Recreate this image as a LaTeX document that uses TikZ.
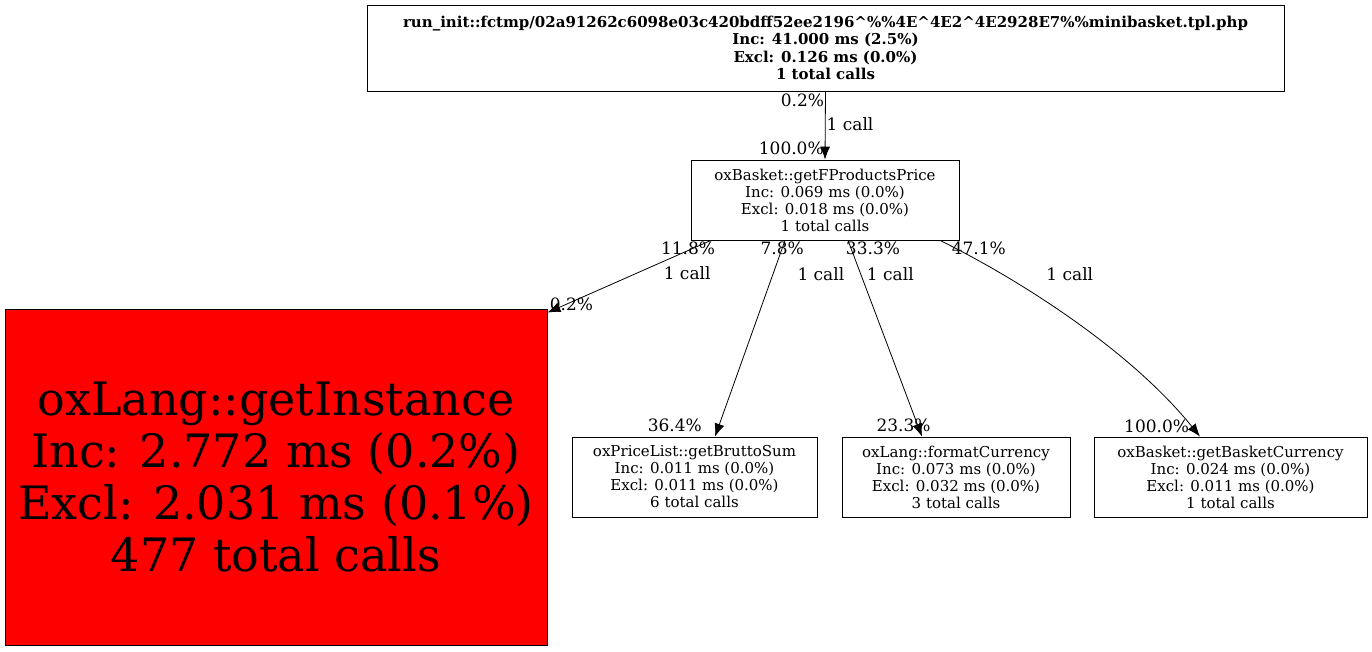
\documentclass[tikz,border=0pt]{standalone}
\usepackage{fontspec}
\setmainfont{DejaVu Serif}
\usepackage{tikz}
\usetikzlibrary{arrows.meta}
\usetikzlibrary{positioning}
\newcommand{\fnroot}{\fontsize{15}{17.5}\selectfont\bfseries}
\newcommand{\fnsmall}{\fontsize{15}{17}\selectfont}
\newcommand{\fnhot}{\fontsize{46}{52}\selectfont}
\newcommand{\fnlbl}{\fontsize{17}{18}\selectfont}

\begin{document}
\begin{tikzpicture}[x=1pt,y=-1pt,
    fn/.style={draw,line width=0.8pt,inner sep=0pt,align=center,font=\fnsmall,minimum height=80pt},
    lbl/.style={font=\fnlbl,inner sep=1pt},
    call/.style={-{Latex[length=13pt,width=10pt]},line width=0.8pt}]
  \useasboundingbox (0,0) rectangle (1372,651);
  \node[fn,font=\fnroot,minimum width=917pt,minimum height=86pt] (root) at (825.5,48)
    {run\_init::fctmp/02a91262c6098e03c420bdff52ee2196\^{}\%\%4E\^{}4E2\^{}4E2928E7\%\%minibasket.tpl.php\\
     Inc: 41.000 ms (2.5\%)\\ Excl: 0.126 ms (0.0\%)\\ 1 total calls};
  \node[fn,minimum width=268pt] (fpp) at (825,200)
    {oxBasket::getFProductsPrice\\ Inc: 0.069 ms (0.0\%)\\ Excl: 0.018 ms (0.0\%)\\ 1 total calls};
  \node[fn,fill=red,font=\fnhot,minimum width=542pt,minimum height=336pt] (inst) at (276,477)
    {oxLang::getInstance\\ Inc: 2.772 ms (0.2\%)\\ Excl: 2.031 ms (0.1\%)\\ 477 total calls};
  \node[fn,minimum width=245pt] (brutto) at (694.5,477)
    {oxPriceList::getBruttoSum\\ Inc: 0.011 ms (0.0\%)\\ Excl: 0.011 ms (0.0\%)\\ 6 total calls};
  \node[fn,minimum width=228pt] (fmtcur) at (956,477)
    {oxLang::formatCurrency\\ Inc: 0.073 ms (0.0\%)\\ Excl: 0.032 ms (0.0\%)\\ 3 total calls};
  \node[fn,minimum width=273pt] (bcur) at (1230.5,477)
    {oxBasket::getBasketCurrency\\ Inc: 0.024 ms (0.0\%)\\ Excl: 0.011 ms (0.0\%)\\ 1 total calls};

  \path[call]
    (root.south) edge node[lbl,pos=0.13,left] {0.2\%}
                      node[lbl,pos=0.48,right] {1 call}
                      node[lbl,pos=0.83,left] {100.0\%} (fpp.north)
    ([xshift=-114pt]fpp.south) edge node[lbl,pos=0.11,xshift=-5pt] {11.8\%}
                      node[lbl,pos=0.45,right=25pt] {1 call}
                      node[lbl,pos=0.89,xshift=6pt] {0.2\%} ([yshift=-4pt]inst.north east)
    ([xshift=-40pt]fpp.south) edge node[lbl,pos=0.04] {7.8\%}
                      node[lbl,pos=0.17,right=23pt] {1 call}
                      node[lbl,pos=0.94,left=16pt] {36.4\%} ([xshift=20.5pt]brutto.north)
    ([xshift=23pt]fpp.south) edge node[lbl,pos=0.04,xshift=22pt] {33.3\%}
                      node[lbl,pos=0.17,right=5pt] {1 call}
                      node[lbl,pos=0.94,xshift=-14pt] {23.3\%} ([xshift=-34pt]fmtcur.north);
  \draw[call] ([xshift=115pt]fpp.south) .. controls (1020,280) and (1130,350) .. ([xshift=-30.5pt]bcur.north)
    node[lbl,pos=0.04,xshift=29pt,yshift=-3pt] {47.1\%}
    node[lbl,pos=0.2,right=54pt,yshift=-6pt] {1 call}
    node[lbl,pos=0.96,left=1pt] {100.0\%};
\end{tikzpicture}
\end{document}
